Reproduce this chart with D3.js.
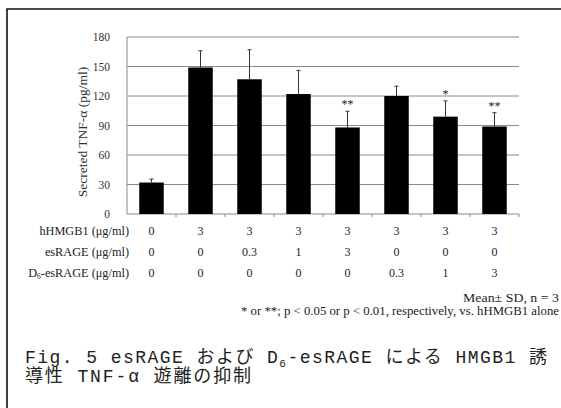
<!DOCTYPE html>
<html><head><meta charset="utf-8">
<script src="https://cdn.jsdelivr.net/npm/d3@7"></script>
<style>
html,body{margin:0;padding:0;background:#fff;}
svg{display:block;}
</style></head>
<body>
<svg id="chart" width="561" height="408"></svg>
<script>
const categories = ["g1","g2","g3","g4","g5","g6","g7","g8"];
const means = [32, 149, 137, 122, 88, 120, 99, 89];
const sdTop = [35.5, 166, 167, 146, 104.5, 130, 115, 103];
const sig = ["", "", "", "", "**", "", "*", "**"];
const yTicks = [0, 30, 60, 90, 120, 150, 180];
const rowHMGB1 = ["0","3","3","3","3","3","3","3"];
const rowEsRAGE = ["0","0","0.3","1","3","0","0","0"];
const rowD6 = ["0","0","0","0","0","0.3","1","3"];

const svg = d3.select("#chart");
const serif = "'Liberation Serif','Times New Roman',serif";

// frame
svg.append("path").attr("d","M7,410 L7,9 L563,9").attr("fill","none").attr("stroke","#111").attr("stroke-width",1.6);

const y = d3.scaleLinear().domain([0,180]).range([214,37]);
const x = d3.scaleBand().domain(categories).range([127,519]).paddingInner(0.5).paddingOuter(0.25);

// gridlines
svg.append("g").selectAll("line").data(yTicks).join("line")
  .attr("x1",127).attr("x2",519).attr("y1",d=>y(d)).attr("y2",d=>y(d))
  .attr("stroke","#8a8a8a").attr("stroke-width",1);
// left axis line
svg.append("line").attr("x1",127).attr("x2",127).attr("y1",y(180)).attr("y2",y(0)).attr("stroke","#8a8a8a");
// y tick labels
svg.append("g").selectAll("text").data(yTicks).join("text")
  .attr("x",110).attr("y",d=>y(d)).attr("dy","0.35em").attr("text-anchor","end")
  .attr("font-family",serif).attr("font-size",11.5).attr("fill","#333").text(d=>d);
// boundary ticks
const bounds = categories.map((c,i)=> x.range()[0] + i*x.step()).concat([x.range()[1]]);
svg.append("g").selectAll("line").data(bounds.slice(1)).join("line")
  .attr("x1",d=>d).attr("x2",d=>d).attr("y1",y(0)).attr("y2",y(0)+3).attr("stroke","#8a8a8a");

// y title
svg.append("text").attr("transform",`translate(87,132) rotate(-90)`).attr("text-anchor","middle")
  .attr("font-family",serif).attr("font-size",13.5).attr("fill","#333").text("Secreted TNF-α (pg/ml)");

// bars
svg.append("g").selectAll("rect").data(means).join("rect")
  .attr("x",(d,i)=>x(categories[i])).attr("width",x.bandwidth())
  .attr("y",d=>y(d)).attr("height",d=>y(0)-y(d)).attr("fill","#000");
// error bars
const eb = svg.append("g").attr("stroke","#333").attr("stroke-width",1);
categories.forEach((c,i)=>{
  const cx = x(c)+x.bandwidth()/2;
  eb.append("line").attr("x1",cx).attr("x2",cx).attr("y1",y(means[i])).attr("y2",y(sdTop[i]));
  eb.append("line").attr("x1",cx-2).attr("x2",cx+2).attr("y1",y(sdTop[i])).attr("y2",y(sdTop[i]));
});
// significance
svg.append("g").selectAll("text").data(sig).join("text")
  .attr("x",(d,i)=>x(categories[i])+x.bandwidth()/2).attr("y",(d,i)=>y(sdTop[i])-3)
  .attr("text-anchor","middle").attr("font-family",serif).attr("font-size",12).attr("fill","#222").text(d=>d);

// rows
const rows = [
  {label:["hHMGB1 (μg/ml)"], vals:rowHMGB1, yy:235},
  {label:["esRAGE (μg/ml)"], vals:rowEsRAGE, yy:256},
  {label:["D","6","-esRAGE (μg/ml)"], vals:rowD6, yy:277}
];
rows.forEach(r=>{
  const t = svg.append("text").attr("x",129).attr("y",r.yy).attr("text-anchor","end")
    .attr("font-family",serif).attr("font-size",12.3).attr("fill","#222");
  if(r.label.length===1) t.text(r.label[0]);
  else {
    t.append("tspan").text(r.label[0]);
    t.append("tspan").attr("font-size",7.5).attr("dy",2).text(r.label[1]);
    t.append("tspan").attr("dy",-2).text(r.label[2]);
  }
  svg.append("g").selectAll("text").data(r.vals).join("text")
    .attr("x",(d,i)=>x(categories[i])+x.bandwidth()/2).attr("y",r.yy).attr("text-anchor","middle")
    .attr("font-family",serif).attr("font-size",12).attr("fill","#222").text(d=>d);
});

// notes
svg.append("text").attr("x",559).attr("y",302).attr("text-anchor","end")
  .attr("font-family",serif).attr("font-size",12).attr("fill","#222")
  .attr("textLength",96).attr("lengthAdjust","spacingAndGlyphs").text("Mean± SD, n = 3");
svg.append("text").attr("x",559).attr("y",315).attr("text-anchor","end")
  .attr("font-family",serif).attr("font-size",12).attr("fill","#222")
  .attr("textLength",318).attr("lengthAdjust","spacingAndGlyphs")
  .text("* or **; p < 0.05 or p < 0.01, respectively, vs. hHMGB1 alone");

// caption
const capFont = "'Liberation Mono','Noto Sans CJK JP',monospace";
const c1 = svg.append("text").attr("x",25).attr("y",363).attr("font-family",capFont).attr("font-size",18).attr("fill","#222")
  .attr("textLength",522).attr("lengthAdjust","spacing");
c1.append("tspan").text("Fig.  5 esRAGE および D");
c1.append("tspan").attr("font-size",11).attr("dy",4).text("6");
c1.append("tspan").attr("dy",-4).text("-esRAGE による HMGB1 誘");
svg.append("text").attr("x",25).attr("y",382).attr("font-family",capFont).attr("font-size",18).attr("fill","#222")
  .attr("textLength",226).attr("lengthAdjust","spacing").text("導性 TNF-α 遊離の抑制");
</script>
</body></html>
